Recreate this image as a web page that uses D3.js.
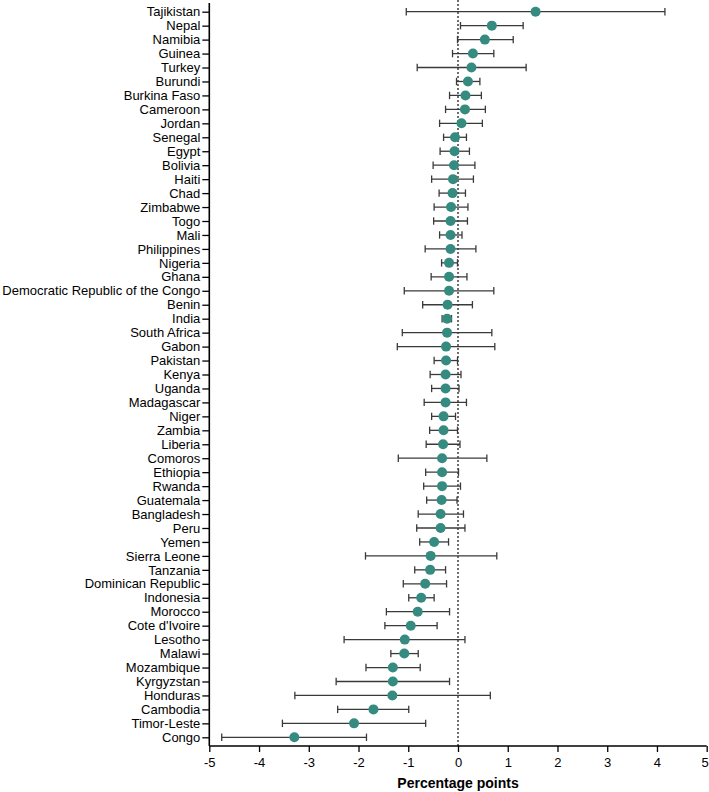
<!DOCTYPE html>
<html><head><meta charset="utf-8">
<script src="https://cdn.jsdelivr.net/npm/d3@7"></script>
<style>body{margin:0;background:#fff;} svg{display:block;font-family:"Liberation Sans",Arial,sans-serif;}</style>
</head><body>
<svg id="chart" width="709" height="792"></svg>
<script>
const countries = ["Tajikistan","Nepal","Namibia","Guinea","Turkey","Burundi","Burkina Faso","Cameroon","Jordan","Senegal","Egypt","Bolivia","Haiti","Chad","Zimbabwe","Togo","Mali","Philippines","Nigeria","Ghana","Democratic Republic of the Congo","Benin","India","South Africa","Gabon","Pakistan","Kenya","Uganda","Madagascar","Niger","Zambia","Liberia","Comoros","Ethiopia","Rwanda","Guatemala","Bangladesh","Peru","Yemen","Sierra Leone","Tanzania","Dominican Republic","Indonesia","Morocco","Cote d'Ivoire","Lesotho","Malawi","Mozambique","Kyrgyzstan","Honduras","Cambodia","Timor-Leste","Congo"];
const estimates = [1.56,0.68,0.54,0.30,0.27,0.20,0.15,0.14,0.07,-0.06,-0.07,-0.08,-0.10,-0.11,-0.14,-0.15,-0.15,-0.15,-0.18,-0.18,-0.18,-0.21,-0.22,-0.22,-0.24,-0.24,-0.25,-0.25,-0.25,-0.29,-0.29,-0.30,-0.32,-0.32,-0.32,-0.33,-0.35,-0.35,-0.48,-0.55,-0.56,-0.66,-0.74,-0.81,-0.95,-1.07,-1.08,-1.31,-1.31,-1.32,-1.70,-2.09,-3.29];
const lower = [-1.04,0.05,-0.01,-0.11,-0.82,-0.03,-0.17,-0.25,-0.37,-0.29,-0.36,-0.50,-0.53,-0.38,-0.48,-0.49,-0.37,-0.66,-0.33,-0.54,-1.08,-0.71,-0.32,-1.12,-1.22,-0.48,-0.56,-0.53,-0.68,-0.53,-0.57,-0.64,-1.20,-0.65,-0.69,-0.63,-0.80,-0.83,-0.77,-1.86,-0.87,-1.10,-0.99,-1.44,-1.47,-2.29,-1.35,-1.85,-2.45,-3.28,-2.42,-3.53,-4.75];
const upper = [4.16,1.31,1.11,0.72,1.37,0.44,0.47,0.55,0.49,0.17,0.23,0.34,0.31,0.15,0.20,0.19,0.08,0.36,-0.01,0.18,0.72,0.29,-0.13,0.68,0.74,-0.01,0.06,0.02,0.17,-0.05,-0.01,0.04,0.58,0.01,0.05,-0.02,0.11,0.14,-0.19,0.78,-0.25,-0.23,-0.48,-0.17,-0.42,0.14,-0.80,-0.76,-0.17,0.65,-0.99,-0.65,-1.84];
const xTicks = [-5,-4,-3,-2,-1,0,1,2,3,4,5];
const xTitle = "Percentage points";

const data = countries.map((c,i)=>({c, v:estimates[i], lo:lower[i], hi:upper[i]}));
const svg = d3.select("#chart");
const x0 = 209.3, x1 = 706.7, axisY = 746;
const x = d3.scaleLinear().domain([-5,5]).range([x0,x1]);
const y = d3.scalePoint().domain(countries).range([11.7,737.3]);

// zero reference line
svg.append("line").attr("x1",x(0)).attr("x2",x(0)).attr("y1",0).attr("y2",axisY)
  .attr("stroke","#222").attr("stroke-width",1.3).attr("stroke-dasharray","2,2");

// error bars
const eb = svg.append("g").attr("stroke","#3a3a3a").attr("stroke-width",1.3).attr("fill","none");
data.forEach(d=>{
  const yy = y(d.c);
  eb.append("line").attr("x1",x(d.lo)).attr("x2",x(d.hi)).attr("y1",yy).attr("y2",yy);
  eb.append("line").attr("x1",x(d.lo)).attr("x2",x(d.lo)).attr("y1",yy-3.7).attr("y2",yy+3.7);
  eb.append("line").attr("x1",x(d.hi)).attr("x2",x(d.hi)).attr("y1",yy-3.7).attr("y2",yy+3.7);
});

// points
svg.append("g").selectAll("circle").data(data).join("circle")
  .attr("cx",d=>x(d.v)).attr("cy",d=>y(d.c)).attr("r",5)
  .attr("fill","#358b80");

// y axis
const ya = svg.append("g").attr("transform",`translate(${x0},0)`)
  .call(d3.axisLeft(y).tickSize(7).tickPadding(2));
ya.select(".domain").attr("d",`M0,3V${axisY}`).attr("stroke","#000").attr("stroke-width",1.6);
ya.selectAll(".tick line").attr("stroke","#000").attr("stroke-width",1.3);
ya.selectAll(".tick text").attr("font-size",13).attr("fill","#000").attr("font-family","Liberation Sans, Arial, sans-serif");

// x axis
const xa = svg.append("g").attr("transform",`translate(0,${axisY})`)
  .call(d3.axisBottom(x).tickValues(xTicks).tickFormat(d3.format("d")).tickSize(6).tickPadding(6));
xa.select(".domain").attr("d",`M${x0},0H${x1}`).attr("stroke","#000").attr("stroke-width",1.6);
xa.selectAll(".tick line").attr("stroke","#000").attr("stroke-width",1.3);
xa.selectAll(".tick text").attr("font-size",13).attr("fill","#000").attr("font-family","Liberation Sans, Arial, sans-serif")
  .text(d=>d<0 ? "-"+Math.abs(d) : d)
  .attr("dx",(d,i)=> i===xTicks.length-1 ? -2 : 0);

svg.append("text").attr("x",x(0)).attr("y",788).attr("text-anchor","middle")
  .attr("font-size",14).attr("font-weight","bold").text(xTitle);
</script>
</body></html>
